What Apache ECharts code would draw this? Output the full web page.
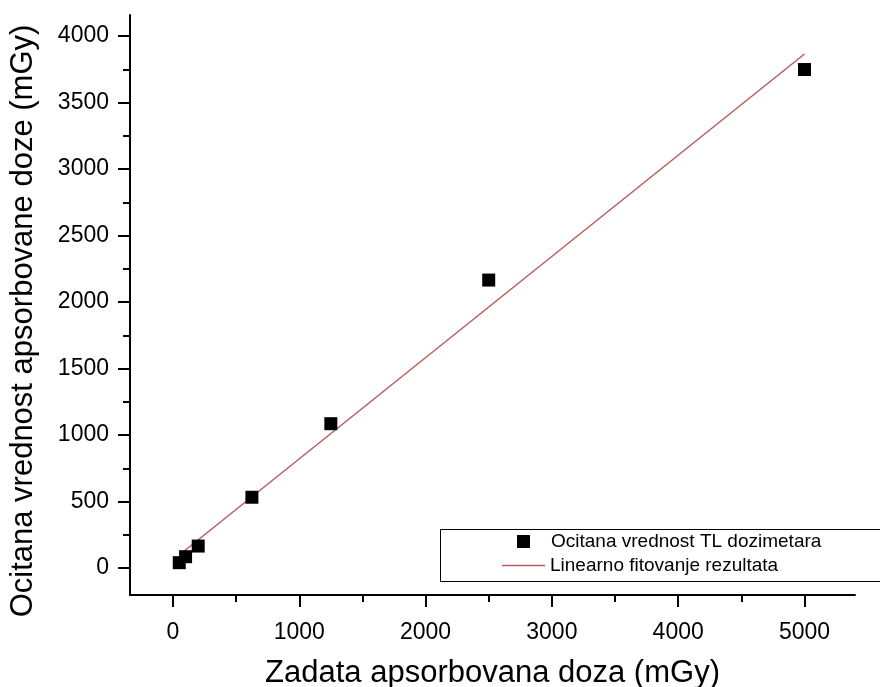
<!DOCTYPE html>
<html>
<head>
<meta charset="utf-8">
<script src="https://cdn.jsdelivr.net/npm/echarts@6/dist/echarts.min.js"></script>
<style>
  html, body { margin: 0; padding: 0; background: #fff; }
  #chart { width: 880px; height: 687px; }
</style>
</head>
<body>
<div id="chart"></div>
<script>
// zadata doza / ocitana doza (mGy)
const doseGiven = [50, 100, 200, 625, 1250, 2500, 5000];
const doseRead = [40, 85, 165, 532, 1085, 2165, 3748];
// krajnje tacke linearnog fita
const fitX = [50, 5000];
const fitY = [98, 3865];

const xTicks = [0, 1000, 2000, 3000, 4000, 5000];
const xMinor = [500, 1500, 2500, 3500, 4500];
const yTicks = [0, 500, 1000, 1500, 2000, 2500, 3000, 3500, 4000];
const yMinor = [250, 750, 1250, 1750, 2250, 2750, 3250, 3750];

const nameScatter = 'Ocitana vrednost TL dozimetara';
const nameFit = 'Linearno fitovanje rezultata';
const font = 'Liberation Sans, Arial, sans-serif';
const fitColor = '#b85c5c';

const chart = echarts.init(document.getElementById('chart'), null, { renderer: 'canvas' });

const axisLine = { show: true, onZero: false, lineStyle: { color: '#000', width: 2 } };
const plain = v => String(v);

const option = {
  animation: false,
  backgroundColor: '#fff',
  grid: { left: 130, right: 25, top: 15, bottom: 92, containLabel: false, outerBoundsMode: 'none' },
  xAxis: [
    {
      type: 'value', min: -340, max: 5400, position: 'bottom',
      splitLine: { show: false },
      axisLine: axisLine,
      axisTick: { show: true, inside: false, length: 12, lineStyle: { color: '#000', width: 2 }, customValues: xTicks },
      axisLabel: { customValues: xTicks, formatter: plain, color: '#000', fontSize: 23, fontFamily: font, margin: 26 },
      name: 'Zadata apsorbovana doza (mGy)',
      nameLocation: 'middle', nameGap: 63,
      nameTextStyle: { color: '#000', fontSize: 31, fontFamily: font }
    },
    {
      type: 'value', min: -340, max: 5400, position: 'bottom',
      splitLine: { show: false },
      axisLine: { show: false, onZero: false },
      axisTick: { show: true, inside: false, length: 7, lineStyle: { color: '#000', width: 2 }, customValues: xMinor },
      axisLabel: { show: false }
    }
  ],
  yAxis: [
    {
      type: 'value', min: -203, max: 4158, position: 'left',
      splitLine: { show: false },
      axisLine: axisLine,
      axisTick: { show: true, inside: false, length: 12, lineStyle: { color: '#000', width: 2 }, customValues: yTicks },
      axisLabel: { customValues: yTicks, formatter: plain, color: '#000', fontSize: 23, fontFamily: font, margin: 21 },
      name: 'Ocitana vrednost apsorbovane doze (mGy)',
      nameLocation: 'middle', nameGap: 91, nameRotate: 90,
      nameTextStyle: { color: '#000', fontSize: 31, fontFamily: font, padding: [0, 32, 0, 0] }
    },
    {
      type: 'value', min: -203, max: 4158, position: 'left',
      splitLine: { show: false },
      axisLine: { show: false, onZero: false },
      axisTick: { show: true, inside: false, length: 7, lineStyle: { color: '#000', width: 2 }, customValues: yMinor },
      axisLabel: { show: false }
    }
  ],
  legend: [
    {
      data: [nameScatter],
      left: 517, top: 532, padding: 0,
      icon: 'rect', itemWidth: 13, itemHeight: 13,
      textStyle: { color: '#000', fontSize: 19, fontFamily: font, padding: [0, 0, 0, 16] }
    },
    {
      data: [{ name: nameFit, icon: 'rect' }],
      left: 502, top: 556, padding: 0,
      itemWidth: 43, itemHeight: 1.5,
      itemStyle: { color: fitColor },
      textStyle: { color: '#000', fontSize: 19, fontFamily: font }
    }
  ],
  graphic: [
    {
      type: 'rect', left: 438, top: 527, z: 10, silent: true,
      shape: { width: 440, height: 52 },
      style: { fill: null, stroke: '#000', lineWidth: 1 }
    }
  ],
  series: [
    {
      name: nameFit,
      type: 'line',
      data: fitX.map((x, i) => [x, fitY[i]]),
      symbol: 'none',
      lineStyle: { color: fitColor, width: 1.5 },
      itemStyle: { color: fitColor },
      z: 2
    },
    {
      name: nameScatter,
      type: 'scatter',
      data: doseGiven.map((x, i) => [x, doseRead[i]]),
      symbol: 'rect',
      symbolSize: 13,
      itemStyle: { color: '#000', opacity: 1 },
      z: 3
    }
  ]
};

chart.setOption(option);
</script>
</body>
</html>
